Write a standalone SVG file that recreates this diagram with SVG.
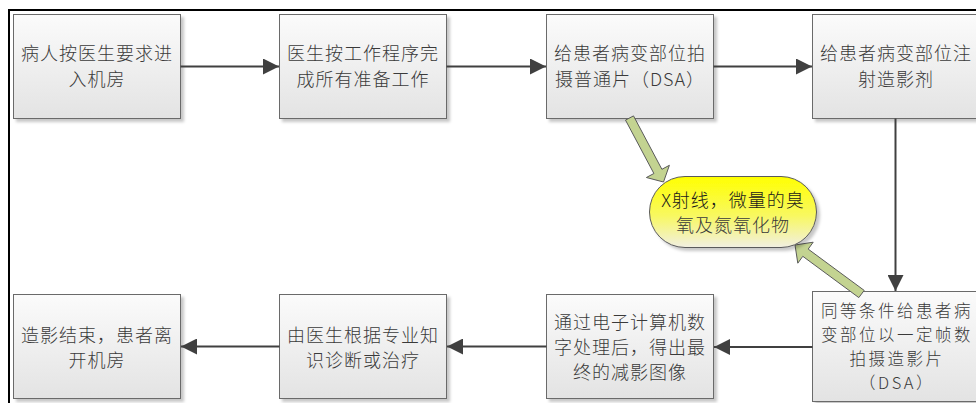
<svg xmlns="http://www.w3.org/2000/svg" width="976" height="403" viewBox="0 0 976 403">
  <defs>
    <linearGradient id="boxFill" x1="0" y1="0" x2="0" y2="1">
      <stop offset="0" stop-color="#fbfbfb"/>
      <stop offset="1" stop-color="#e3e3e3"/>
    </linearGradient>
    <linearGradient id="capsuleFill" x1="0" y1="0" x2="0" y2="1">
      <stop offset="0" stop-color="#ffff00"/>
      <stop offset="0.55" stop-color="#f8f860"/>
      <stop offset="1" stop-color="#f1efe2"/>
    </linearGradient>
    <filter id="shadow" x="-10%" y="-10%" width="130%" height="130%">
      <feDropShadow dx="3" dy="3" stdDeviation="1.5" flood-color="#000" flood-opacity="0.22"/>
    </filter>
    <marker id="head" markerUnits="userSpaceOnUse" markerWidth="16" markerHeight="16" refX="16" refY="8" orient="auto">
      <path d="M0,0 L16,8 L0,16 z" fill="#404040"/>
    </marker>
    <style>
      .box { fill: url(#boxFill); stroke: #6a6a6a; stroke-width: 1; filter: url(#shadow); }
      .capsule { fill: url(#capsuleFill); stroke: #5a5a5a; stroke-width: 1; filter: url(#shadow); }
      .label { font-family: "Noto Sans CJK SC", "Liberation Sans", sans-serif; font-size: 18px; font-weight: 300; letter-spacing: 1px; fill: #3a3a3a; text-anchor: middle; }
      .tight { font-size: 16.5px; letter-spacing: 2.5px; }
      .dark { fill: #1a1a1a; }
      .flow { fill: none; stroke: #404040; stroke-width: 2; marker-end: url(#head); }
      .block { fill: #c3d391; stroke: #5a5a5a; stroke-width: 1; stroke-linejoin: miter; }
      .frame { fill: none; stroke: #000; stroke-width: 2; }
    </style>
  </defs>

  <!-- page frame -->
  <path class="frame" d="M9,403 L9,10 L976,10"/>

  <!-- nodes -->
  <g id="n1">
    <rect class="box" x="13.5" y="14.5" width="167" height="104"/>
    <text class="label" x="97" y="60">病人按医生要求进</text>
    <text class="label" x="97" y="86">入机房</text>
  </g>
  <g id="n2">
    <rect class="box" x="279.5" y="14.5" width="167" height="104"/>
    <text class="label" x="363" y="60">医生按工作程序完</text>
    <text class="label" x="363" y="86">成所有准备工作</text>
  </g>
  <g id="n3">
    <rect class="box" x="546.5" y="14.5" width="167" height="104"/>
    <text class="label" x="630" y="60">给患者病变部位拍</text>
    <text class="label" x="630" y="86">摄普通片（DSA）</text>
  </g>
  <g id="n4">
    <rect class="box" x="812.5" y="14.5" width="167" height="104"/>
    <text class="label" x="896" y="60">给患者病变部位注</text>
    <text class="label" x="896" y="86">射造影剂</text>
  </g>
  <g id="n5">
    <rect class="box" x="812.5" y="291.5" width="167" height="110"/>
    <text class="label tight" x="897" y="317">同等条件给患者病</text>
    <text class="label tight" x="897" y="341">变部位以一定帧数</text>
    <text class="label tight" x="897" y="365">拍摄造影片</text>
    <text class="label tight" x="897" y="389">（DSA）</text>
  </g>
  <g id="n6">
    <rect class="box" x="546.5" y="294.5" width="167" height="104"/>
    <text class="label" x="630" y="329">通过电子计算机数</text>
    <text class="label" x="630" y="354">字处理后，得出最</text>
    <text class="label" x="630" y="379">终的减影图像</text>
  </g>
  <g id="n7">
    <rect class="box" x="279.5" y="294.5" width="167" height="104"/>
    <text class="label" x="363" y="342">由医生根据专业知</text>
    <text class="label" x="363" y="367">识诊断或治疗</text>
  </g>
  <g id="n8">
    <rect class="box" x="13.5" y="294.5" width="167" height="104"/>
    <text class="label" x="97" y="342">造影结束，患者离</text>
    <text class="label" x="97" y="367">开机房</text>
  </g>

  <!-- connectors -->
  <g id="connectors">
    <path class="flow" d="M180.5,66.5 L279,66.5"/>
    <path class="flow" d="M446.5,66.5 L546,66.5"/>
    <path class="flow" d="M713.5,66.5 L812,66.5"/>
    <path class="flow" d="M895.5,118.5 L895.5,291"/>
    <path class="flow" d="M812.5,347 L714,347"/>
    <path class="flow" d="M546.5,346.5 L447,346.5"/>
    <path class="flow" d="M279.5,346.5 L181,346.5"/>
    <!-- block arrows toward the by-product note -->
    <polygon class="block" points="625.5,120.1 653.9,173.5 646.4,177.5 663.5,182 669.4,165.3 661.9,169.3 633.5,115.9"/>
    <polygon class="block" points="864.2,290.4 808.2,249.1 813.2,242.2 795,245 797.8,263.2 802.8,256.3 858.8,297.6"/>
  </g>

  <g id="n9">
    <rect class="capsule" x="649.5" y="176.5" width="167" height="71" rx="35.5" ry="35.5"/>
    <text class="label dark" x="733" y="207">X射线，微量的臭</text>
    <text class="label" x="733" y="232">氧及氮氧化物</text>
  </g>
</svg>
